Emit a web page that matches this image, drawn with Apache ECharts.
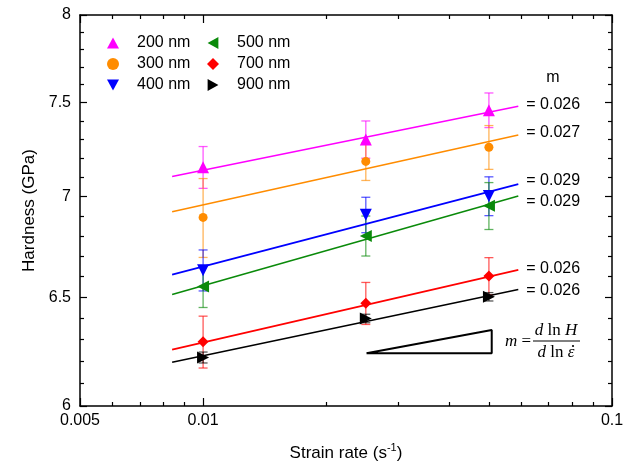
<!DOCTYPE html>
<html>
<head>
<meta charset="utf-8">
<script src="https://cdn.jsdelivr.net/npm/echarts@6/dist/echarts.min.js"></script>
<style>html,body{margin:0;padding:0;background:#fff}#c{width:633px;height:464px}</style>
</head>
<body>
<div id="c"></div>
<script>
// ---- data ----
const rates = [0.01, 0.025, 0.05];
const seriesNames = ['200 nm', '300 nm', '400 nm', '500 nm', '700 nm', '900 nm'];
const h200 = [7.152, 7.300, 7.459];
const h300 = [6.893, 7.183, 7.258];
const h400 = [6.630, 6.906, 7.002];
const h500 = [6.551, 6.800, 6.952];
const h700 = [6.290, 6.471, 6.602];
const h900 = [6.218, 6.399, 6.502];
const e200 = [0.11, 0.10, 0.095];
const e300 = [0.20, 0.10, 0.117];
const e400 = [0.10, 0.09, 0.10];
const e500 = [0.10, 0.10, 0.12];
const e700 = [0.12, 0.10, 0.09];
const e900 = [0.025, 0.02, 0.02];
const fitRates = [0.0084, 0.059];
const fit200 = [7.104, 7.481];
const fit300 = [6.922, 7.324];
const fit400 = [6.609, 7.064];
const fit500 = [6.513, 7.002];
const fit700 = [6.254, 6.632];
const fit900 = [6.196, 6.537];
const mLabels = ['= 0.026', '= 0.027', '= 0.029', '= 0.029', '= 0.026', '= 0.026'];
const triangleRates = [0.0251, 0.0508, 0.0508, 0.0251];
const triangleH = [6.237, 6.345, 6.237, 6.237];
const xMin = 0.005, xMax = 0.1, yMin = 6, yMax = 8;
const xMajorTicks = [0.005, 0.01, 0.1];
const xMinorTicks = [0.006, 0.007, 0.008, 0.009, 0.02, 0.03, 0.04, 0.05, 0.06, 0.07, 0.08, 0.09];
const yMajorTicks = [6, 6.5, 7, 7.5, 8];
const yMinorTicks = [6.1, 6.2, 6.3, 6.4, 6.6, 6.7, 6.8, 6.9, 7.1, 7.2, 7.3, 7.4, 7.6, 7.7, 7.8, 7.9];

// ---- styles ----
const colors = ['#ff00ff', '#ff8c00', '#0000ff', '#0a8a0a', '#ff0000', '#000000'];
const symbols = ['triangle', 'circle', 'triangle', 'triangle', 'diamond', 'triangle'];
const rotations = [0, 0, 180, 90, -90, -90];
const sizes = [12, 9, 12, 12, 11, 12];
const legendIcons = [
  'path://M5,0 L10,9 L0,9 Z',
  'circle',
  'path://M0,0 L10,0 L5,9 Z',
  'path://M0,5 L9,0 L9,10 Z',
  'diamond',
  'path://M0,0 L9,5 L0,10 Z'
];
const labelDy = [-2, -2, -4, 5, -1, 1];
const FONT = '"Liberation Sans", Arial, Helvetica, sans-serif';
const SERIF = '"Liberation Serif", "Times New Roman", serif';

const L = Math.log10;
const H = [h200, h300, h400, h500, h700, h900];
const E = [e200, e300, e400, e500, e700, e900];
const F = [fit200, fit300, fit400, fit500, fit700, fit900];

function xAxisDef(pos, major, withLabels) {
  return {
    type: 'value', position: pos, min: L(xMin), max: L(xMax), gridIndex: 0,
    splitLine: {show: false},
    axisLine: {show: major, onZero: false, lineStyle: {color: '#000', width: 1.5}},
    axisTick: {show: true, inside: true, length: major ? 8 : 4,
      customValues: (major ? xMajorTicks : xMinorTicks).map(L),
      lineStyle: {color: '#000', width: 1.2}},
    axisLabel: {show: withLabels, customValues: xMajorTicks.map(L), margin: 7,
      color: '#000', fontSize: 16, fontFamily: FONT,
      formatter: v => String(Number(Math.pow(10, v).toPrecision(3)))},
    name: withLabels ? '{a|Strain rate (s}{s|-1}{a|)}' : '',
    nameLocation: 'middle', nameGap: 36,
    nameTextStyle: {rich: {
      a: {fontSize: 17, fontFamily: FONT, color: '#000', lineHeight: 22},
      s: {fontSize: 11, fontFamily: FONT, color: '#000', verticalAlign: 'top', lineHeight: 22, padding: [0, 0, 8, 0]}
    }}
  };
}
function yAxisDef(pos, major, withLabels) {
  return {
    type: 'value', position: pos, min: L(yMin), max: L(yMax), gridIndex: 0,
    splitLine: {show: false},
    axisLine: {show: major, onZero: false, lineStyle: {color: '#000', width: 1.5}},
    axisTick: {show: true, inside: true, length: major ? 7 : 4,
      customValues: (major ? yMajorTicks : yMinorTicks).map(L),
      lineStyle: {color: '#000', width: 1.2}},
    axisLabel: {show: withLabels, customValues: yMajorTicks.map(L), margin: 9,
      color: '#000', fontSize: 16, fontFamily: FONT,
      formatter: v => String(Math.round(Math.pow(10, v) * 10) / 10)},
    name: withLabels ? 'Hardness (GPa)' : '',
    nameLocation: 'middle', nameGap: 42, nameRotate: 90,
    nameTextStyle: {fontSize: 17, fontFamily: FONT, color: '#000'}
  };
}

function errRender(color) {
  return function (params, api) {
    const x = api.value(0);
    const lo = api.coord([x, api.value(1)]);
    const hi = api.coord([x, api.value(2)]);
    const w = 4.5;
    const st = {stroke: color, lineWidth: 1.3, opacity: 0.65};
    return {type: 'group', children: [
      {type: 'line', shape: {x1: lo[0], y1: lo[1], x2: hi[0], y2: hi[1]}, style: st},
      {type: 'line', shape: {x1: lo[0] - w, y1: lo[1], x2: lo[0] + w, y2: lo[1]}, style: st},
      {type: 'line', shape: {x1: hi[0] - w, y1: hi[1], x2: hi[0] + w, y2: hi[1]}, style: st}
    ]};
  };
}

const series = [];
seriesNames.forEach((nm, i) => {
  series.push({
    type: 'custom', name: nm + ' err', z: 1, silent: true,
    renderItem: errRender(colors[i]),
    encode: {x: 0, y: [1, 2]},
    data: rates.map((r, k) => [L(r), L(H[i][k] - E[i][k]), L(H[i][k] + E[i][k])])
  });
  series.push({
    type: 'line', name: nm + ' fit', z: 2, silent: true, symbol: 'none',
    lineStyle: {color: colors[i], width: 1.6},
    data: fitRates.map((r, k) => [L(r), L(F[i][k])]),
    endLabel: {show: true, formatter: mLabels[i], distance: 8, offset: [0, labelDy[i]],
      color: '#000', fontSize: 16, fontFamily: FONT}
  });
  series.push({
    type: 'scatter', name: nm, z: 3,
    symbol: symbols[i], symbolRotate: rotations[i], symbolSize: sizes[i],
    itemStyle: {color: colors[i], opacity: 1},
    data: rates.map((r, k) => [L(r), L(H[i][k])])
  });
});
series.push({
  type: 'line', name: 'slope triangle', z: 2, silent: true, symbol: 'none',
  lineStyle: {color: '#000', width: 2},
  data: triangleRates.map((r, k) => [L(r), L(triangleH[k])])
});

const legendCommon = {
  orient: 'vertical', itemWidth: 12, itemHeight: 12, itemGap: 5, padding: 0,
  textStyle: {fontSize: 16, fontFamily: FONT, color: '#000', padding: [0, 0, 0, 13]},
  selectedMode: false
};

const option = {
  animation: false,
  backgroundColor: '#fff',
  grid: {left: 80, right: 21, top: 15, bottom: 58, containLabel: false, outerBoundsMode: 'none'},
  xAxis: [xAxisDef('bottom', true, true), xAxisDef('bottom', false, false),
          xAxisDef('top', true, false), xAxisDef('top', false, false)],
  yAxis: [yAxisDef('left', true, true), yAxisDef('left', false, false),
          yAxisDef('right', true, false), yAxisDef('right', false, false)],
  legend: [
    Object.assign({left: 107, top: 35,
      data: seriesNames.slice(0, 3).map((n, k) => ({name: n, icon: legendIcons[k]}))}, legendCommon),
    Object.assign({left: 207, top: 35,
      data: seriesNames.slice(3, 6).map((n, k) => ({name: n, icon: legendIcons[k + 3]}))}, legendCommon)
  ],
  series: series,
  graphic: [
    {type: 'text', x: 553, y: 78, style: {text: 'm', fontSize: 16, fontFamily: FONT, fill: '#000', align: 'center', verticalAlign: 'middle'}},
    {type: 'text', x: 531, y: 342, style: {text: '{i|m} =', fontSize: 17, fontFamily: SERIF, fill: '#000', align: 'right', verticalAlign: 'middle',
      rich: {i: {fontStyle: 'italic', fontSize: 17, fontFamily: SERIF}}}},
    {type: 'text', x: 556, y: 331, style: {text: '{i|d} ln {i|H}', fontSize: 17, fontFamily: SERIF, fill: '#000', align: 'center', verticalAlign: 'middle',
      rich: {i: {fontStyle: 'italic', fontSize: 17, fontFamily: SERIF}}}},
    {type: 'line', shape: {x1: 533, y1: 341, x2: 580, y2: 341}, style: {stroke: '#000', lineWidth: 1}},
    {type: 'text', x: 556, y: 353, style: {text: '{i|d} ln {i|\u03B5}', fontSize: 17, fontFamily: SERIF, fill: '#000', align: 'center', verticalAlign: 'middle',
      rich: {i: {fontStyle: 'italic', fontSize: 17, fontFamily: SERIF}}}},
    {type: 'circle', shape: {cx: 573, cy: 346, r: 1.1}, style: {fill: '#000'}}
  ]
};

const chart = echarts.init(document.getElementById('c'), null, {renderer: 'canvas'});
chart.setOption(option);
</script>
</body>
</html>
